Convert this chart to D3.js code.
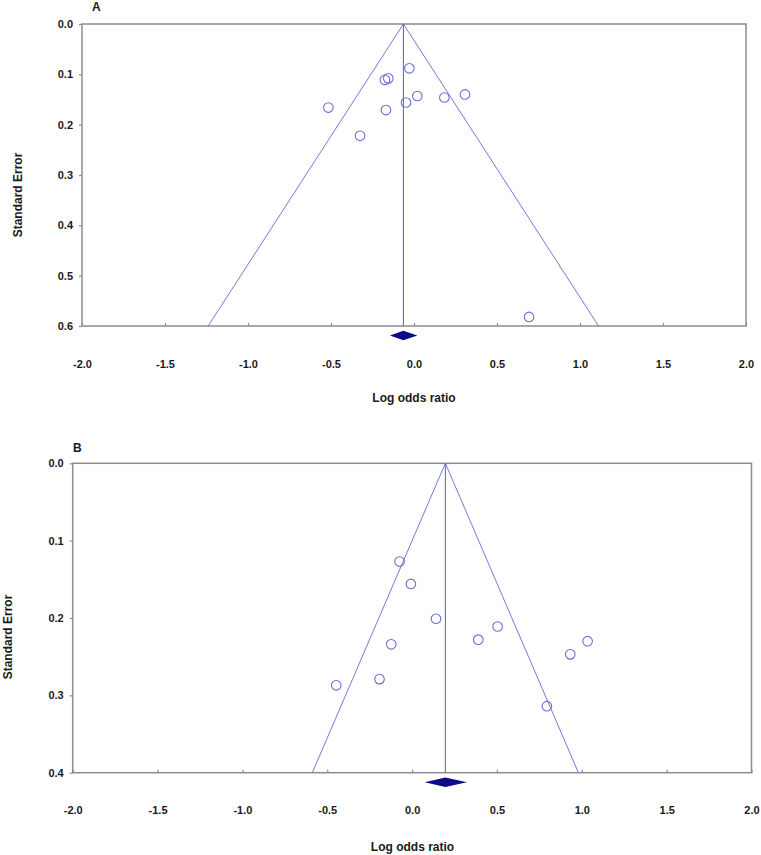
<!DOCTYPE html>
<html>
<head>
<meta charset="utf-8">
<script src="https://cdn.jsdelivr.net/npm/d3@7"></script>
<style>
  html, body { margin: 0; padding: 0; background: #fff; }
  svg { display: block; font-family: "Liberation Sans", Arial, sans-serif; }
</style>
</head>
<body>
<svg id="chart" width="761" height="855"></svg>
<script>
// ---------- data ----------
const xTicks = [-2.0, -1.5, -1.0, -0.5, 0.0, 0.5, 1.0, 1.5, 2.0];

// Panel A
const aLogOR = [-0.516, -0.325, -0.175, -0.155, -0.169, -0.028, -0.048, 0.020, 0.183, 0.307, 0.693];
const aSE    = [ 0.166,  0.222,  0.111,  0.108,  0.171,  0.088,  0.156, 0.143, 0.146, 0.140, 0.582];
const aPooled = -0.064;
const aCI = [-0.145, 0.020];
const aYTicks = [0.0, 0.1, 0.2, 0.3, 0.4, 0.5, 0.6];

// Panel B
const bLogOR = [-0.074, -0.007, 0.141, -0.447, -0.192, -0.123, 0.390, 0.504, 0.932, 1.034, 0.794];
const bSE    = [ 0.127,  0.156, 0.201,  0.287,  0.279,  0.234, 0.228, 0.211, 0.247, 0.230, 0.314];
const bPooled = 0.196;
const bCI = [0.074, 0.323];
const bYTicks = [0.0, 0.1, 0.2, 0.3, 0.4];

const panelLabels = ["A", "B"];
const xTitle = "Log odds ratio";
const yTitle = "Standard Error";

// ---------- styles ----------
const lineColor = "#7878d8";
const vlineColor = "#5a5ad0";
const pointColor = "#6c6cd6";
const diamondColor = "#0c0c8a";
const frameColor = "#8c8c8c";
const textColor = "#1a1a1a";

const svg = d3.select("#chart");
const fmt = d => d.toFixed(1);

function drawPanel(cfg) {
  const g = svg.append("g");
  const seMax = cfg.yTicks[cfg.yTicks.length - 1];
  const x = d3.scaleLinear().domain([-2, 2]).range([cfg.left, cfg.right]);
  const y = d3.scaleLinear().domain([0, seMax]).range([cfg.top, cfg.bottom]);

  // frame
  g.append("rect")
    .attr("x", cfg.left).attr("y", cfg.top)
    .attr("width", cfg.right - cfg.left).attr("height", cfg.bottom - cfg.top)
    .attr("fill", "none").attr("stroke", frameColor).attr("stroke-width", 1.5);

  // x axis (ticks inside)
  const xAxis = d3.axisBottom(x).tickValues(xTicks)
    .tickFormat(fmt).tickSizeInner(-3).tickSizeOuter(0).tickPadding(34);
  const xa = g.append("g").attr("transform", `translate(0,${cfg.bottom})`).call(xAxis);
  xa.select(".domain").remove();
  xa.selectAll(".tick line").attr("stroke", frameColor).attr("stroke-width", 1.2);
  xa.selectAll(".tick text").attr("fill", textColor).attr("font-size", 11)
    .attr("font-weight", "bold").attr("font-family", "Liberation Sans, Arial, sans-serif");

  // y axis (ticks outside)
  const yAxis = d3.axisLeft(y).tickValues(cfg.yTicks)
    .tickFormat(fmt).tickSizeInner(3).tickSizeOuter(0).tickPadding(6);
  const ya = g.append("g").attr("transform", `translate(${cfg.left},0)`).call(yAxis);
  ya.select(".domain").remove();
  ya.selectAll(".tick line").attr("stroke", frameColor).attr("stroke-width", 1.2);
  ya.selectAll(".tick text").attr("fill", textColor).attr("font-size", 11)
    .attr("font-weight", "bold").attr("font-family", "Liberation Sans, Arial, sans-serif");

  // funnel
  const funnel = [
    [cfg.pooled - 1.96 * seMax, seMax],
    [cfg.pooled, 0],
    [cfg.pooled + 1.96 * seMax, seMax]
  ];
  g.append("path")
    .attr("d", d3.line().x(d => x(d[0])).y(d => y(d[1]))(funnel))
    .attr("fill", "none").attr("stroke", lineColor).attr("stroke-width", 1);
  g.append("line")
    .attr("x1", x(cfg.pooled)).attr("x2", x(cfg.pooled))
    .attr("y1", y(0)).attr("y2", y(seMax))
    .attr("stroke", vlineColor).attr("stroke-width", 1);

  // points
  g.selectAll("circle.pt").data(cfg.lor.map((v, i) => [v, cfg.se[i]]))
    .enter().append("circle")
    .attr("class", "pt")
    .attr("cx", d => x(d[0])).attr("cy", d => y(d[1]))
    .attr("r", 4.8)
    .attr("fill", "none").attr("stroke", pointColor).attr("stroke-width", 1.1);

  // diamond
  const yd = cfg.bottom + 9.5;
  const dpts = [
    [x(cfg.ci[0]), yd], [x(cfg.pooled), yd - 4.7],
    [x(cfg.ci[1]), yd], [x(cfg.pooled), yd + 4.7]
  ];
  g.append("polygon")
    .attr("points", dpts.map(p => p.join(",")).join(" "))
    .attr("fill", diamondColor);

  // titles
  g.append("text").text(cfg.label)
    .attr("x", cfg.labelX).attr("y", cfg.labelY).attr("dy", "0.35em")
    .attr("font-size", 12).attr("font-weight", "bold").attr("fill", textColor);
  g.append("text").text(xTitle)
    .attr("x", cfg.xTitleX).attr("y", cfg.xTitleY).attr("dy", "0.35em")
    .attr("text-anchor", "middle")
    .attr("font-size", 12).attr("font-weight", "bold").attr("fill", textColor);
  g.append("text").text(yTitle)
    .attr("transform", `translate(${cfg.yTitleX},${cfg.yTitleY}) rotate(-90)`)
    .attr("dy", "0.35em").attr("text-anchor", "middle")
    .attr("font-size", 12).attr("font-weight", "bold").attr("fill", textColor);
}

drawPanel({
  left: 82, right: 746, top: 24, bottom: 326,
  yTicks: aYTicks, lor: aLogOR, se: aSE, pooled: aPooled, ci: aCI,
  label: panelLabels[0], labelX: 92, labelY: 7,
  xTitleX: 414, xTitleY: 398, yTitleX: 18, yTitleY: 195
});

drawPanel({
  left: 72.7, right: 751.5, top: 463.3, bottom: 772.7,
  yTicks: bYTicks, lor: bLogOR, se: bSE, pooled: bPooled, ci: bCI,
  label: panelLabels[1], labelX: 73, labelY: 448,
  xTitleX: 412.5, xTitleY: 847, yTitleX: 7.5, yTitleY: 637
});
</script>
</body>
</html>
